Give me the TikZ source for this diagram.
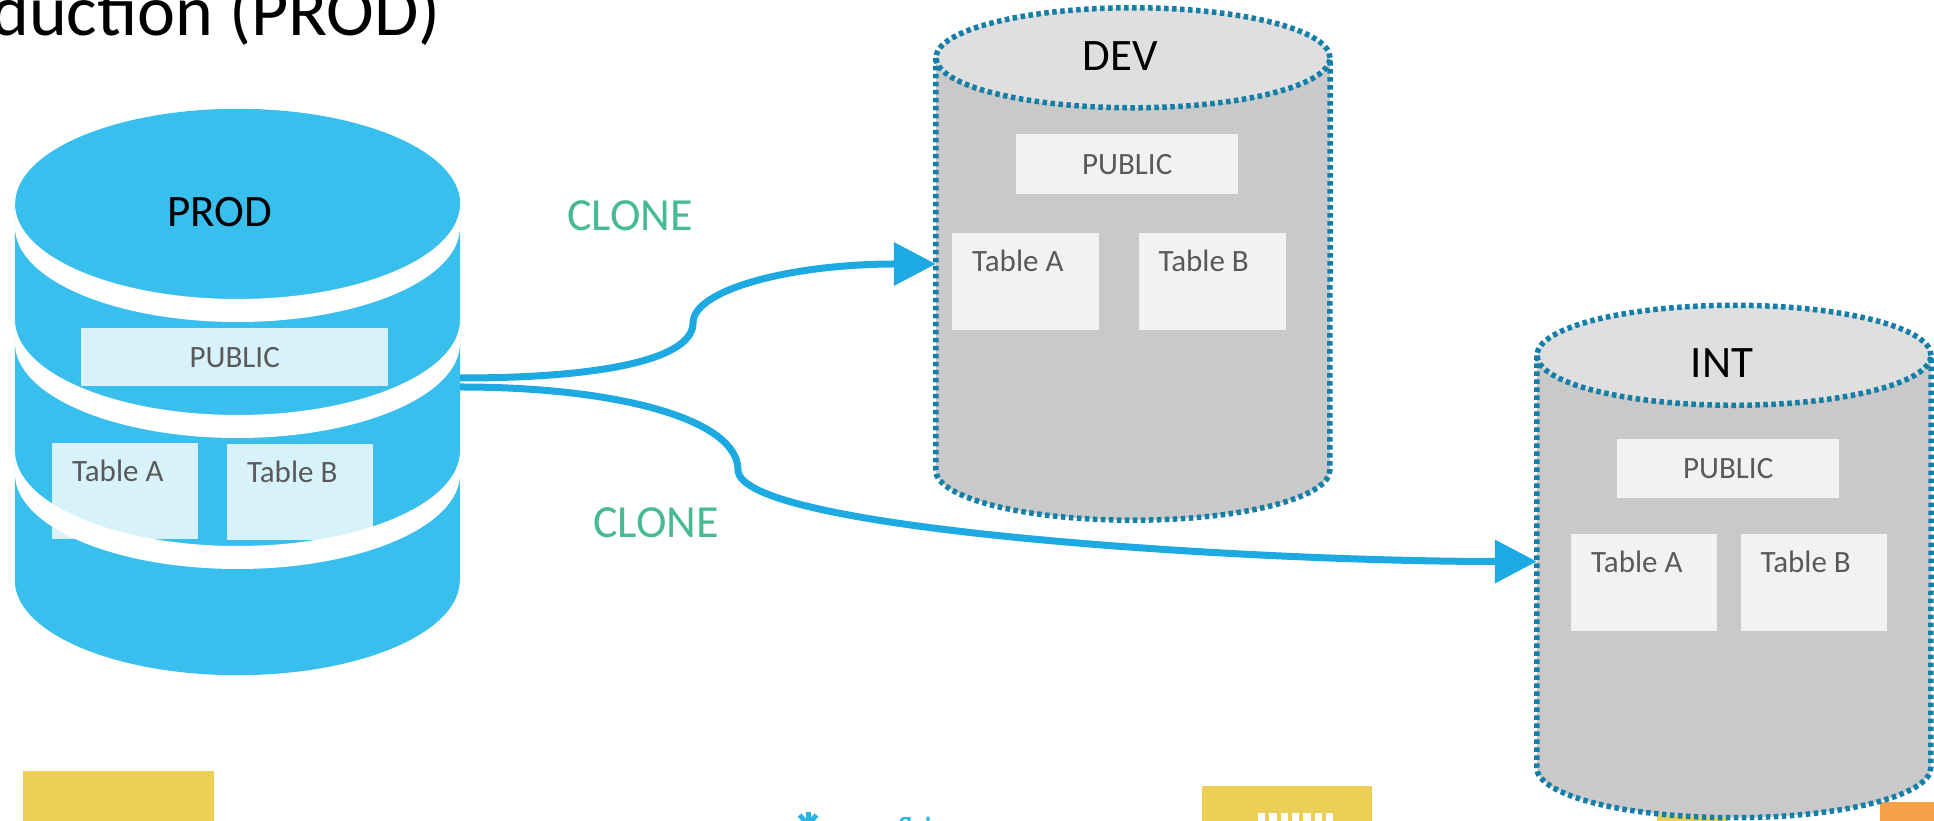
\documentclass[tikz,border=0pt]{standalone}
\usepackage{fontspec}
\setmainfont{Carlito}
\usepackage{tikz}
\usetikzlibrary{arrows.meta,positioning}

\definecolor{prodblue}{HTML}{38BFEE}
\definecolor{clonearrow}{HTML}{1DA9E1}
\definecolor{clonegreen}{HTML}{47BA95}
\definecolor{dotblue}{HTML}{137FA8}
\definecolor{dbbody}{HTML}{C9C9C9}
\definecolor{dbtop}{HTML}{DFDFDF}
\definecolor{boxgray}{HTML}{F2F2F2}
\definecolor{labelgray}{HTML}{595959}
\definecolor{iconyellow}{HTML}{EBD055}
\definecolor{iconorange}{HTML}{F7A04A}
\definecolor{flakeblue}{HTML}{29B5E8}

% grey clone database with a dotted outline, drawn round an empty node
\newcommand{\clonedb}[1]{%
  \path[fill=dbbody] ([yshift=-50pt]#1.north west) -- ([yshift=50pt]#1.south west)
    arc[start angle=180, end angle=360, x radius=197, y radius=50]
    -- ([yshift=-50pt]#1.north east) -- cycle;
  \path[fill=dbtop] ([yshift=-50pt]#1.north) ellipse [x radius=197, y radius=50];
  \draw[dots] ([yshift=-50pt]#1.north west) -- ([yshift=50pt]#1.south west)
    arc[start angle=180, end angle=360, x radius=197, y radius=50]
    -- ([yshift=-50pt]#1.north east);
  \draw[dots] ([yshift=-50pt]#1.north) ellipse [x radius=197, y radius=50];
}

\begin{document}
\begin{tikzpicture}[x=1pt, y=1pt,
    dbframe/.style={inner sep=0pt, minimum width=394pt, minimum height=512pt},
    dots/.style={draw=dotblue, line width=5.5pt, dash pattern=on 4.5pt off 3.5pt},
    prodbox/.style={fill=white, fill opacity=0.8, inner sep=0pt, anchor=north west},
    dbbox/.style={fill=boxgray, inner sep=0pt, anchor=north west},
    schema/.style={font=\fontsize{31}{36}\selectfont, text=labelgray, inner sep=0pt},
    tablename/.style={schema, anchor=base west},
    dbname/.style={font=\fontsize{45}{54}\selectfont, inner sep=0pt, anchor=base},
    clonelabel/.style={font=\fontsize{46}{55}\selectfont, text=clonegreen, inner sep=0pt, anchor=base west},
    clone/.style={draw=clonearrow, line width=7pt, -{Triangle[length=42pt, width=42pt]}}]
    \useasboundingbox (0,0) rectangle (1934,821);
    \clip (0,0) rectangle (1934,821);

    \node[anchor=base east, font=\fontsize{72}{86}\selectfont, inner sep=0pt] (title) at (441,785) {Production (PROD)};

    % slide decorations along the lower edge
    \fill[iconyellow] (23,0) rectangle (214,50);
    \fill[iconyellow] (1202,0) rectangle (1372,35);
    \foreach \i in {0,...,6}
        \fill[white] (1258+11.3*\i,0) rectangle ++(7.3,8);
    \fill[iconorange] (1880,0) rectangle (1934,19);
    \fill[iconyellow] (1657,0) rectangle (1727,9);
    \begin{scope}[draw=flakeblue, line width=5pt]
        \foreach \a in {30,90,...,330} {
            \draw (808,-31) -- ++(\a:40);
            \draw (808,-31) ++(\a:27) -- ++(\a+40:13);
            \draw (808,-31) ++(\a:27) -- ++(\a-40:13);
        }
    \end{scope}
    \node[anchor=base west, font=\fontsize{26}{30}\selectfont\bfseries, text=flakeblue, inner sep=0pt] (flaketext) at (840,-15) {snowflake};

    % production database
    \node[inner sep=0pt, minimum width=445pt, minimum height=566pt] (proddb) at (237.5,429) {};
    \fill[prodblue] ([yshift=-95pt]proddb.north west) -- ([yshift=95pt]proddb.south west)
        arc[start angle=180, end angle=360, x radius=222.5, y radius=95]
        -- ([yshift=-95pt]proddb.north east)
        arc[start angle=0, end angle=180, x radius=222.5, y radius=95] -- cycle;
    \foreach \cy in {617,501,370}
        \fill[white] (15,\cy) arc[start angle=180, end angle=360, x radius=222.5, y radius=95]
            -- ++(0,-23) arc[start angle=360, end angle=180, x radius=222.5, y radius=95] -- cycle;
    \node[dbname] (prodname) at (220,594) {PROD};
    \node[prodbox, minimum width=307pt, minimum height=58pt] (prodpub) at (81,493) {};
    \node[schema] at (prodpub) {PUBLIC};
    \node[prodbox, minimum width=146pt, minimum height=96pt] (proda) at (52,378) {};
    \node[prodbox, minimum width=146pt, minimum height=96pt] (prodb) at (227,377) {};
    \node[tablename] at ([shift={(20,-39)}]proda.north west) {Table A};
    \node[tablename] at ([shift={(20,-39)}]prodb.north west) {Table B};

    % development clone
    \node[dbframe] (devdb) at (1133,557) {};
    \clonedb{devdb}
    \node[dbname] (devname) at (1120,750) {DEV};
    \node[dbbox, minimum width=222pt, minimum height=60pt] (devpub) at (1016,687) {};
    \node[schema] at (devpub) {PUBLIC};
    \node[dbbox, minimum width=147pt, minimum height=97pt] (deva) at (952,588) {};
    \node[dbbox, minimum width=147pt, minimum height=97pt, anchor=west, right=39pt of deva] (devb) {};
    \node[tablename] at ([shift={(20,-39)}]deva.north west) {Table A};
    \node[tablename] at ([shift={(20,-39)}]devb.north west) {Table B};

    % integration clone
    \node[dbframe] (intdb) at (1734,259.5) {};
    \clonedb{intdb}
    \node[dbname] (intname) at (1722,443) {INT};
    \node[dbbox, minimum width=222pt, minimum height=59pt] (intpub) at (1617,382) {};
    \node[schema] at (intpub) {PUBLIC};
    \node[dbbox, minimum width=146pt, minimum height=97pt] (inta) at (1571,287) {};
    \node[dbbox, minimum width=146pt, minimum height=97pt, anchor=west, right=23pt of inta] (intb) {};
    \node[tablename] at ([shift={(20,-39)}]inta.north west) {Table A};
    \node[tablename] at ([shift={(20,-39)}]intb.north west) {Table B};

    % clone arrows
    \coordinate (devbend) at (693,498);
    \coordinate (intbend) at (738,351);
    \draw[clone] ([yshift=14pt]proddb.east) .. controls +(160,0) and +(0,-32) .. (devbend)
        .. controls +(0,33) and +(-146,0) .. (devdb.west);
    \draw[clone] ([yshift=5pt]proddb.east) .. controls +(160,0) and +(0,50) .. (intbend)
        .. controls +(0,-60) and +(-287,0) .. (intdb.west);
    \node[clonelabel] (clonedev) at (567,590) {CLONE};
    \node[clonelabel] (cloneint) at (593,283) {CLONE};
\end{tikzpicture}
\end{document}
